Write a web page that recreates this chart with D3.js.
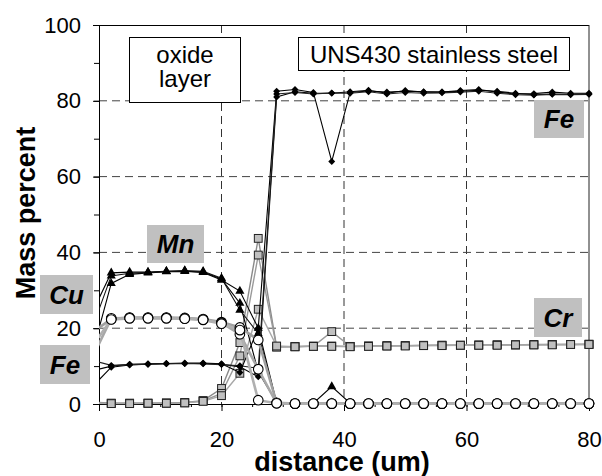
<!DOCTYPE html>
<html>
<head>
<meta charset="utf-8">
<script src="https://cdn.jsdelivr.net/npm/d3@7"></script>
<style>
body{margin:0;background:#fff;}
text{font-family:"Liberation Sans",Arial,sans-serif;}
</style>
</head>
<body>
<svg id="chart" width="602" height="476"></svg>
<script>
// distance (um) of each analysis point, three line scans per element
var xs  = [-1,2,5,8,11,14,17,20,23,26,29,32,35,38,41,44,47,50,53,56,59,62,65,68,71,74,77,80];

var feA = [4.7,9.7,10.3,10.5,10.7,10.7,10.7,10.5,9.8,7.2,81.0,82.4,82.0,82.0,82.4,82.8,82.0,82.7,82.3,82.3,82.7,83.0,82.3,81.8,81.9,82.3,82.0,82.0];
var feB = [8.8,10.0,10.5,10.6,10.7,10.8,10.8,10.6,8.3,20.0,82.5,83.0,82.2,64.0,82.2,82.6,82.3,82.5,82.4,82.3,82.5,82.8,82.5,82.0,81.6,81.8,81.7,81.8];
var feC = [11.5,10.2,10.4,10.5,10.6,10.7,10.6,10.4,10.1,9.4,81.8,82.2,81.8,82.1,82.0,82.4,81.8,82.2,82.0,82.1,82.3,82.5,82.0,81.6,81.5,81.7,81.6,81.7];

var mnA = [24.5,34.6,34.8,34.8,35.0,35.1,34.7,32.7,29.8,20.0,0.3,0.2,0.2,0.3,0.2,0.2,0.2,0.2,0.2,0.2,0.2,0.2,0.2,0.2,0.2,0.2,0.2,0.2];
var mnB = [14.0,31.8,34.2,34.6,34.9,35.0,34.8,33.0,26.6,8.5,0.4,0.2,0.2,4.6,0.2,0.2,0.2,0.2,0.2,0.2,0.2,0.2,0.2,0.2,0.2,0.2,0.2,0.2];
var mnC = [20.5,33.8,34.5,34.7,35.0,35.2,35.0,33.2,24.8,18.6,0.2,0.2,0.2,0.2,0.2,0.2,0.2,0.2,0.2,0.2,0.2,0.2,0.2,0.2,0.2,0.2,0.2,0.2];

var cuA = [19.0,22.4,22.8,22.8,22.8,22.7,22.4,21.6,20.2,16.9,0.3,0.1,0.1,0.1,0.1,0.1,0.1,0.1,0.1,0.1,0.1,0.1,0.1,0.1,0.1,0.1,0.1,0.1];
var cuB = [12.5,22.6,22.7,22.7,22.7,22.6,22.3,21.4,18.4,9.2,0.2,0.1,0.1,0.1,0.1,0.1,0.1,0.1,0.1,0.1,0.1,0.1,0.1,0.1,0.1,0.1,0.1,0.1];
var cuC = [15.5,22.3,22.6,22.6,22.6,22.5,22.2,21.2,19.5,1.0,0.2,0.1,0.1,0.1,0.1,0.1,0.1,0.1,0.1,0.1,0.1,0.1,0.1,0.1,0.1,0.1,0.1,0.1];

var crA = [0.5,0.2,0.2,0.2,0.3,0.4,0.9,4.1,16.2,43.7,15.1,15.1,15.3,15.3,15.2,15.3,15.4,15.4,15.5,15.5,15.5,15.6,15.6,15.6,15.7,15.7,15.7,15.8];
var crB = [0.3,0.2,0.2,0.2,0.2,0.3,0.8,2.8,12.7,39.3,15.0,15.2,15.2,19.1,15.2,15.3,15.3,15.4,15.4,15.5,15.5,15.5,15.6,15.6,15.6,15.7,15.7,15.7];
var crC = [0.2,0.1,0.1,0.2,0.2,0.3,0.7,2.2,8.1,25.0,15.3,15.1,15.2,15.2,15.1,15.2,15.3,15.3,15.4,15.4,15.5,15.5,15.5,15.6,15.6,15.6,15.7,15.7];

var xLabels = [0,20,40,60,80];
var yLabels = [0,20,40,60,80,100];
var xMinor = d3.range(0,81,5);
var yMinor = d3.range(0,101,10);
var gridX = [20,40,60];
var gridY = [20,40,60,80];

var width = 490, height = 379;
var svg = d3.select("#chart");
var g = svg.append("g").attr("transform","translate(99,25)");

var x = d3.scaleLinear().domain([0,80]).range([0,width]);
var y = d3.scaleLinear().domain([0,100]).range([height,0]);

svg.append("defs").append("clipPath").attr("id","clip")
  .append("rect").attr("x",0).attr("y",-12).attr("width",width+12).attr("height",height+24);

// dashed grid
g.selectAll(".gx").data(gridX).enter().append("line")
  .attr("x1",d=>x(d)).attr("x2",d=>x(d)).attr("y1",0).attr("y2",height)
  .attr("stroke","#333").attr("stroke-dasharray","8,5");
g.selectAll(".gy").data(gridY).enter().append("line")
  .attr("x1",0).attr("x2",width).attr("y1",d=>y(d)).attr("y2",d=>y(d))
  .attr("stroke","#444").attr("stroke-dasharray","8,5");

// frame
g.append("line").attr("x1",0).attr("x2",width).attr("y1",0.5).attr("y2",0.5).attr("stroke","#000");
g.append("line").attr("x1",width).attr("x2",width).attr("y1",0).attr("y2",height).attr("stroke","#222");

// axes
g.append("g").attr("transform","translate(0,"+height+")")
  .call(d3.axisBottom(x).tickValues(xMinor).tickSize(3).tickFormat(""))
  .call(a=>a.select(".domain").remove());
var xa = g.append("g").attr("transform","translate(0,"+height+")")
  .call(d3.axisBottom(x).tickValues(xLabels).tickSize(7).tickPadding(20).tickSizeOuter(0));
xa.selectAll("text").style("font-size","22px").attr("fill","#000");

g.append("g").call(d3.axisLeft(y).tickValues(yMinor).tickSize(5).tickFormat(""))
  .call(a=>a.select(".domain").remove());
var ya = g.append("g").call(d3.axisLeft(y).tickValues(yLabels).tickSize(6).tickPadding(12).tickSizeOuter(0));
ya.selectAll("text").style("font-size","22px").attr("fill","#000");

// titles
svg.append("text").attr("x",342).attr("y",471).attr("text-anchor","middle")
  .style("font-size","27px").style("font-weight","bold").text("distance (um)");
svg.append("text").attr("transform","translate(35,213) rotate(-90)").attr("text-anchor","middle")
  .style("font-size","27px").style("font-weight","bold").text("Mass percent");

// data
var plot = g.append("g").attr("clip-path","url(#clip)");
function pts(v){ return xs.map((d,i)=>({x:d,y:v[i]})); }
var line = d3.line().x(d=>x(d.x)).y(d=>y(d.y));

var elements = [
  {scans:[crA,crB,crC], stroke:["#8a8a8a","#9a9a9a","#a8a8a8"], lw:1.4, mark:"square"},
  {scans:[mnA,mnB,mnC], stroke:["#000","#000","#111"], lw:1.1, mark:"triangle"},
  {scans:[feA,feB,feC], stroke:["#000","#000","#222"], lw:1.1, mark:"diamond"},
  {scans:[cuA,cuB,cuC], stroke:["#a0a0a0","#a8a8a8","#b0b0b0"], lw:2.6, mark:"circle"}
];

elements.forEach(function(el){
  el.scans.forEach(function(s,k){
    plot.append("path").datum(pts(s)).attr("d",line)
      .attr("fill","none").attr("stroke",el.stroke[k]).attr("stroke-width",el.lw);
  });
  el.scans.forEach(function(s){
    var m = plot.append("g").selectAll("g").data(pts(s)).enter().append("g")
      .attr("transform",d=>"translate("+x(d.x)+","+y(d.y)+")");
    if(el.mark=="square"){
      m.append("rect").attr("x",-3.9).attr("y",-3.9).attr("width",7.8).attr("height",7.8)
        .attr("fill","#c0c0c0").attr("stroke","#222").attr("stroke-width",1);
    } else if(el.mark=="circle"){
      m.append("circle").attr("r",4.8).attr("fill","#fff").attr("stroke","#000").attr("stroke-width",1.1);
    } else if(el.mark=="triangle"){
      m.append("path").attr("d",d3.symbol().type(d3.symbolTriangle).size(36)).attr("fill","#000");
    } else {
      m.append("path").attr("d",d3.symbol().type(d3.symbolSquare).size(24))
        .attr("transform","rotate(45)").attr("fill","#000");
    }
  });
});

// text boxes
function box(x0,y0,w,h,fill){
  svg.append("rect").attr("x",x0).attr("y",y0).attr("width",w).attr("height",h)
    .attr("fill",fill).attr("stroke",fill=="#fff"?"#000":"none").attr("stroke-width",1);
}
box(129.5,37.5,111,65,"#fff");
svg.append("text").attr("x",185).attr("y",63).attr("text-anchor","middle").style("font-size","24px").text("oxide");
svg.append("text").attr("x",185).attr("y",87).attr("text-anchor","middle").style("font-size","24px").text("layer");
box(298.5,37.5,271,33,"#fff");
svg.append("text").attr("x",434).attr("y",63).attr("text-anchor","middle").style("font-size","24px").text("UNS430 stainless steel");

var tags = [
  {t:"Fe", x0:534, y0:100, w:50, h:38},
  {t:"Cr", x0:534, y0:298, w:48, h:39},
  {t:"Mn", x0:147, y0:225, w:57, h:38},
  {t:"Cu", x0:40,  y0:275, w:53, h:39},
  {t:"Fe", x0:40,  y0:345, w:50, h:39}
];
tags.forEach(function(d){
  box(d.x0,d.y0,d.w,d.h,"#c0c0c0");
  svg.append("text").attr("x",d.x0+d.w/2).attr("y",d.y0+d.h/2+9).attr("text-anchor","middle")
    .style("font-size","26px").style("font-weight","bold").style("font-style","italic").text(d.t);
});
</script>
</body>
</html>
